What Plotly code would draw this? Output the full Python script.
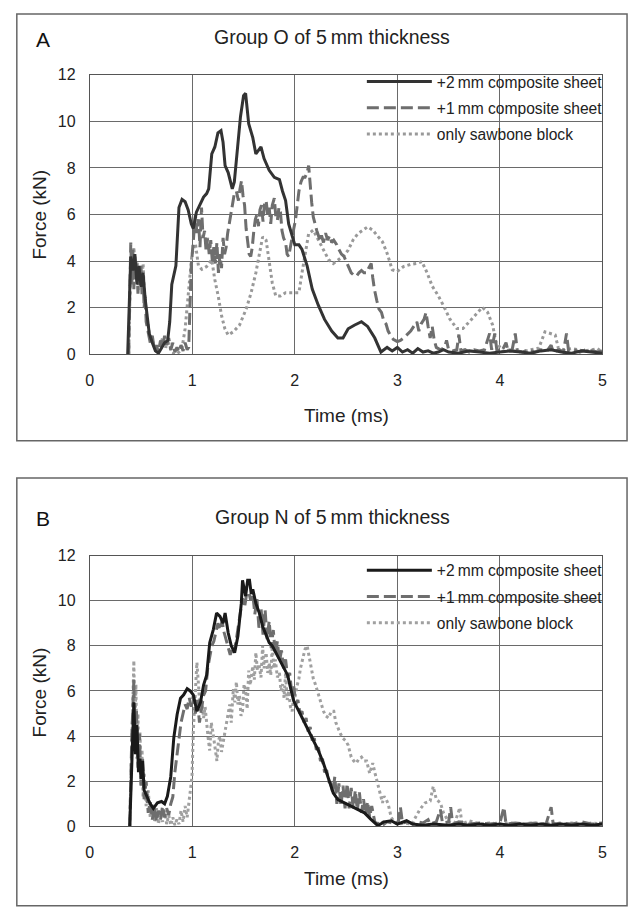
import plotly.graph_objects as go

W, H = 635, 907

# ---------------- Panel A data (Group O) ----------------
tA_2mm = [0.37,0.40,0.42,0.44,0.46,0.48,0.50,0.52,0.54,0.56,0.58,0.61,0.64,0.67,0.70,0.73,0.76,0.78,0.80,0.82,
          0.84,0.87,0.90,0.93,0.96,0.99,1.01,1.04,1.08,1.11,1.14,1.16,1.19,1.22,1.25,1.28,1.30,1.32,1.35,1.39,
          1.41,1.44,1.47,1.50,1.52,1.55,1.59,1.62,1.65,1.67,1.70,1.75,1.80,1.85,1.88,1.91,1.94,1.97,2.00,2.04,
          2.07,2.12,2.17,2.23,2.29,2.36,2.42,2.47,2.52,2.58,2.65,2.71,2.78,2.84,2.90,2.95,3.00,3.05,3.10,3.15,
          3.20,3.25,3.30,3.35,3.40,3.45,3.50,3.6,3.7,3.8,3.9,4.0,4.1,4.2,4.3,4.4,4.5,4.6,4.7,4.8,4.9,5.0]
fA_2mm = [0,4.2,3.6,4.3,3.0,3.8,2.9,3.5,2.4,1.6,0.9,0.5,0.15,0.05,0.3,0.5,0.6,1.4,3.0,3.4,
          3.8,6.3,6.65,6.55,6.2,5.6,5.4,6.1,6.5,6.75,6.9,7.1,8.6,8.9,9.5,9.6,9.1,8.1,7.8,7.1,
          7.4,8.9,10.2,11.1,11.2,9.9,9.3,8.6,8.8,8.9,8.4,7.9,7.6,7.5,7.0,6.6,5.6,5.1,4.7,4.7,
          4.5,3.8,2.8,2.1,1.5,1.0,0.7,0.7,1.1,1.25,1.4,1.2,0.7,0.1,0.3,0.15,0.3,0.1,0.2,0.05,
          0.25,0.1,0.15,0.05,0.1,0.2,0.1,0.05,0.15,0.1,0.05,0.1,0.15,0.1,0.05,0.15,0.2,0.1,0.05,0.15,0.1,0.05]

tA_1mm = [0.38,0.40,0.41,0.42,0.43,0.44,0.45,0.46,0.47,0.48,0.49,0.50,0.51,0.52,0.53,0.54,0.55,0.57,0.59,0.61,
          0.63,0.65,0.67,0.69,0.71,0.73,0.75,0.77,0.79,0.81,0.83,0.85,0.87,0.89,0.91,0.93,0.95,0.965,0.98,0.99,
          1.005,1.02,1.03,1.045,1.06,1.075,1.09,1.105,1.12,1.135,1.15,1.165,1.18,1.195,1.21,1.225,1.24,1.255,1.27,1.285,
          1.30,1.315,1.33,1.345,1.36,1.375,1.39,1.41,1.43,1.45,1.465,1.48,1.495,1.51,1.525,1.54,1.555,1.57,1.585,1.60,
          1.615,1.63,1.645,1.66,1.675,1.69,1.705,1.72,1.735,1.75,1.765,1.78,1.80,1.815,1.83,1.845,1.86,1.875,1.89,1.91,
          1.925,1.94,1.955,1.97,1.99,2.006,2.02,2.04,2.06,2.08,2.10,2.12,2.135,2.15,2.165,2.18,2.20,2.215,2.23,2.245,
          2.26,2.28,2.30,2.32,2.34,2.36,2.38,2.41,2.43,2.455,2.48,2.50,2.525,2.55,2.575,2.60,2.625,2.65,2.675,2.70,
          2.72,2.745,2.76,2.776,2.80,2.82,2.845,2.87,2.89,2.91,2.935,2.96,3.0,3.03,3.06,3.10,3.13,3.16,3.19,3.21,
          3.23,3.26,3.28,3.30,3.32,3.34,3.36,3.38,3.42,3.46,3.48,3.50,3.54,3.58,3.60,3.62,3.66,3.70,3.75,3.80,
          3.85,3.90,3.92,3.95,3.97,4.02,4.06,4.08,4.12,4.15,4.17,4.22,4.28,4.34,4.40,4.46,4.50,4.52,4.58,4.62,
          4.65,4.67,4.72,4.78,4.84,4.90,4.96,5.0]
fA_1mm = [0,4.8,3.0,4.5,2.8,4.2,3.2,3.9,2.6,3.6,2.9,3.8,2.5,3.4,2.0,2.6,1.4,1.0,0.5,0.8,
          0.2,0.4,0.1,0.6,0.3,0.8,0.4,0.7,0.2,0.5,0.1,0.3,0.1,0.4,0.15,0.5,0.2,0.3,2.6,3.8,
          4.6,5.6,6.0,5.2,5.8,4.6,6.3,5.0,5.3,4.4,5.0,4.3,4.9,4.0,4.6,3.9,4.8,3.5,4.3,3.7,
          5.0,4.3,4.6,5.2,5.6,6.0,6.4,6.9,7.0,6.6,7.1,7.45,6.8,6.4,5.4,4.8,4.3,4.2,4.6,5.3,
          5.8,6.0,5.5,6.2,6.4,5.7,6.5,6.6,6.0,6.3,5.6,6.4,6.7,5.9,5.75,6.3,6.1,5.3,5.0,4.8,
          4.3,4.2,4.6,4.9,5.4,5.75,6.3,7.0,7.4,7.6,7.6,7.8,8.1,7.2,6.5,5.9,5.5,5.3,5.1,4.9,
          5.1,4.8,5.2,4.9,5.1,4.8,4.9,4.7,4.5,4.3,4.2,4.0,3.7,3.5,3.4,3.35,3.5,3.6,3.5,3.5,
          3.7,3.9,3.3,2.8,2.3,1.95,1.8,1.4,1.3,1.0,0.8,0.65,0.55,0.6,0.7,0.85,1.0,1.2,1.4,1.0,
          1.3,1.5,1.8,1.2,0.7,1.2,0.6,0.3,0.2,0.3,0.6,0.2,0.15,0.2,0.85,0.15,0.2,0.1,0.2,0.15,
          0.2,0.9,0.2,0.9,0.2,0.15,0.5,0.15,0.2,0.9,0.15,0.1,0.2,0.1,0.2,0.15,0.4,0.1,0.2,0.1,
          0.9,0.15,0.2,0.1,0.2,0.15,0.1,0.15]

tA_bone = [0.38,0.40,0.415,0.43,0.445,0.46,0.475,0.49,0.505,0.52,0.535,0.55,0.57,0.59,0.62,0.65,0.68,0.71,0.74,0.77,
           0.80,0.84,0.87,0.90,0.93,0.965,0.997,1.03,1.06,1.093,1.14,1.19,1.22,1.253,1.285,1.317,1.35,1.40,1.46,1.526,
           1.574,1.62,1.654,1.686,1.72,1.75,1.78,1.814,1.86,1.91,1.974,2.04,2.07,2.10,2.135,2.18,2.23,2.28,2.33,2.375,
           2.42,2.47,2.52,2.567,2.615,2.66,2.71,2.76,2.81,2.855,2.90,2.95,3.0,3.06,3.13,3.19,3.24,3.29,3.34,3.40,
           3.45,3.51,3.58,3.64,3.70,3.77,3.83,3.88,3.93,3.96,4.03,4.10,4.18,4.25,4.32,4.38,4.44,4.49,4.54,4.57,
           4.63,4.70,4.75,4.82,4.9,4.95,5.0]
fA_bone = [0,4.2,3.2,4.6,3.4,4.0,2.7,3.7,3.0,3.9,2.3,1.8,1.1,0.6,0.5,0.1,0.3,0.7,0.3,0.5,
           0.05,0.0,0.1,0.27,1.1,2.8,4.3,4.76,3.8,3.65,3.77,4.06,3.2,2.5,1.67,1.11,0.83,0.97,1.25,1.95,
           2.65,3.5,4.34,5.04,4.9,3.9,3.07,2.51,2.51,2.65,2.65,2.65,3.5,4.34,5.18,5.33,4.9,4.47,4.06,3.9,
           4.06,4.2,4.47,4.9,5.18,5.33,5.47,5.33,5.04,4.83,4.34,3.63,3.56,3.77,3.86,3.9,3.98,3.5,2.93,2.51,
           2.09,1.53,1.11,1.11,1.39,1.75,2.02,1.81,1.25,0.55,0.13,0.2,0.1,0.15,0.2,0.27,0.97,0.9,0.83,0.27,
           0.2,0.25,0.2,0.15,0.2,0.25,0.1]

# ---------------- Panel B data (Group N) ----------------
tB_2mm = [0.39,0.41,0.43,0.445,0.46,0.475,0.49,0.50,0.515,0.53,0.56,0.59,0.62,0.66,0.70,0.73,0.757,0.79,0.82,0.852,
          0.885,0.916,0.95,0.98,1.01,1.045,1.08,1.11,1.14,1.17,1.205,1.237,1.27,1.30,1.32,1.35,1.38,1.413,1.445,1.478,
          1.49,1.52,1.54,1.558,1.575,1.59,1.62,1.654,1.686,1.72,1.75,1.78,1.83,1.88,1.93,1.96,1.99,2.04,2.087,2.135,
          2.18,2.23,2.28,2.33,2.375,2.42,2.49,2.55,2.615,2.68,2.74,2.81,2.87,2.94,3.0,3.09,3.15,3.25,3.35,3.5,
          3.6,3.7,3.8,3.9,4.0,4.1,4.2,4.3,4.4,4.5,4.6,4.7,4.8,4.9,5.0]
fB_2mm = [0,3.0,5.5,3.2,4.5,2.4,3.0,2.1,2.9,1.6,1.3,1.0,0.8,1.04,1.1,1.0,1.33,2.2,3.94,4.96,
          5.68,5.83,6.1,6.0,5.83,5.1,5.5,6.26,6.7,8.14,8.72,9.45,9.3,9.0,9.45,8.58,8.0,7.7,8.43,9.88,
          10.9,10.2,10.9,10.9,10.3,10.5,9.88,9.45,8.87,8.43,8.14,8.0,7.57,7.13,6.7,6.1,5.54,5.1,4.67,4.23,
          3.8,3.36,2.78,2.06,1.48,1.19,1.04,0.9,0.75,0.6,0.32,0.03,0.2,0.25,0.1,0.25,0.1,0.05,0.1,0.05,
          0.1,0.05,0.1,0.05,0.1,0.05,0.1,0.05,0.1,0.05,0.1,0.05,0.1,0.05,0.1]

tB_1mm = [0.39,0.41,0.43,0.44,0.455,0.47,0.485,0.50,0.515,0.53,0.55,0.57,0.59,0.61,0.63,0.65,0.67,0.69,0.71,0.73,
          0.75,0.77,0.79,0.81,0.83,0.85,0.87,0.89,0.91,0.93,0.95,0.97,0.99,1.01,1.03,1.05,1.07,1.09,1.11,1.13,
          1.15,1.17,1.19,1.21,1.23,1.25,1.27,1.29,1.31,1.33,1.35,1.37,1.39,1.41,1.43,1.45,1.47,1.49,1.51,1.53,
          1.55,1.57,1.59,1.61,1.63,1.65,1.67,1.69,1.71,1.73,1.75,1.77,1.79,1.81,1.83,1.85,1.87,1.89,1.91,1.93,
          1.95,1.97,1.99,2.01,2.03,2.05,2.07,2.09,2.11,2.13,2.15,2.17,2.19,2.21,2.23,2.25,2.27,2.29,2.31,2.33,
          2.35,2.37,2.39,2.41,2.43,2.45,2.47,2.49,2.51,2.53,2.55,2.57,2.59,2.61,2.63,2.65,2.67,2.69,2.71,2.73,
          2.75,2.78,2.81,2.84,2.87,2.90,2.95,3.01,3.03,3.05,3.10,3.15,3.2,3.25,3.30,3.32,3.38,3.42,3.44,3.50,
          3.52,3.54,3.6,3.7,3.8,3.9,4.0,4.04,4.06,4.15,4.25,4.35,4.45,4.50,4.52,4.6,4.7,4.8,4.9,5.0]
fB_1mm = [0,4.0,6.5,3.5,5.2,2.6,4.1,1.8,3.0,1.2,2.0,0.6,1.1,0.3,0.9,0.2,0.7,0.3,0.9,0.4,
          0.8,0.5,1.0,1.3,2.4,3.2,4.0,4.6,5.0,5.4,5.2,5.7,5.3,5.8,5.0,5.6,4.6,5.2,5.8,6.0,
          7.0,7.5,8.0,8.2,8.6,9.0,8.7,9.1,8.6,8.3,8.0,7.6,7.9,7.7,8.3,9.0,9.5,10.1,9.7,10.3,
          10.4,10.0,10.3,9.4,10.1,8.8,9.7,8.5,9.6,8.3,9.1,7.9,8.7,7.6,8.2,7.3,7.8,7.0,7.4,6.6,
          6.8,5.9,6.2,5.4,5.6,5.0,5.1,4.6,4.8,4.2,4.4,3.8,3.9,3.4,3.5,2.9,3.0,2.4,2.5,2.0,
          1.9,1.5,2.2,1.0,1.9,0.9,1.8,0.8,1.9,0.8,1.7,0.8,1.6,0.7,1.5,0.6,1.2,0.5,1.1,0.4,
          0.9,0.2,0.1,0.3,0.1,0.2,0.15,0.2,0.85,0.15,0.2,0.1,0.2,0.15,0.3,0.1,0.2,0.75,0.15,0.2,
          0.85,0.1,0.2,0.1,0.15,0.1,0.15,0.85,0.1,0.15,0.1,0.15,0.1,0.85,0.1,0.15,0.1,0.2,0.1,0.15]

tB_bone = [0.39,0.41,0.43,0.44,0.45,0.46,0.47,0.48,0.49,0.50,0.51,0.52,0.53,0.55,0.57,0.59,0.61,0.63,0.65,0.67,
           0.69,0.71,0.73,0.75,0.77,0.79,0.81,0.83,0.85,0.87,0.89,0.91,0.93,0.95,0.97,0.997,1.01,1.03,1.045,1.06,
           1.077,1.09,1.11,1.125,1.14,1.155,1.17,1.185,1.2,1.22,1.24,1.255,1.27,1.285,1.3,1.315,1.33,1.35,1.365,1.38,
           1.4,1.415,1.43,1.445,1.46,1.475,1.49,1.505,1.52,1.535,1.55,1.565,1.59,1.605,1.62,1.635,1.65,1.67,1.686,1.70,
           1.72,1.735,1.75,1.765,1.78,1.795,1.81,1.83,1.85,1.865,1.88,1.895,1.91,1.925,1.94,1.957,1.974,1.99,2.0,2.02,
           2.04,2.055,2.07,2.085,2.10,2.12,2.135,2.15,2.165,2.18,2.2,2.22,2.235,2.25,2.265,2.28,2.3,2.33,2.355,2.38,
           2.40,2.42,2.445,2.47,2.495,2.52,2.535,2.55,2.575,2.6,2.625,2.65,2.675,2.7,2.73,2.76,2.785,2.81,2.83,2.855,
           2.87,2.89,2.91,2.94,2.97,3.0,3.07,3.14,3.18,3.22,3.27,3.32,3.35,3.38,3.42,3.45,3.5,3.56,3.61,3.63,
           3.7,3.8,3.9,4.0,4.1,4.2,4.3,4.4,4.5,4.6,4.7,4.8,4.9,5.0]
fB_bone = [0,3.5,7.35,4.0,6.3,3.0,5.0,2.5,4.2,1.8,3.4,1.3,2.4,0.9,1.6,0.4,1.0,0.2,0.8,0.1,
           0.6,0.2,0.7,0.1,0.5,0.05,0.4,0.05,0.3,0.1,0.7,0.2,0.9,0.4,1.2,2.2,4.23,5.68,7.27,6.3,
           5.1,5.6,4.8,5.3,4.5,3.9,3.36,4.6,4.2,3.5,2.9,3.8,4.0,3.3,3.7,4.1,4.5,5.0,5.4,4.6,
           6.1,5.5,6.4,5.4,5.8,4.9,5.1,6.3,6.0,5.2,6.9,6.26,7.1,6.5,7.7,6.9,7.2,6.6,8.0,7.0,
           7.7,6.8,7.25,6.7,8.0,7.0,7.4,6.6,6.8,6.0,6.3,5.7,6.8,5.6,6.0,5.3,5.1,5.9,5.7,6.2,
           6.55,7.0,7.27,7.5,7.86,8.0,7.6,7.3,6.9,6.55,6.3,6.0,5.7,5.5,5.3,5.1,4.9,4.8,5.1,5.1,
           4.6,4.35,4.1,3.9,3.8,3.6,3.3,3.07,2.9,2.8,3.0,3.07,2.9,2.9,2.35,2.8,2.3,1.9,1.5,1.04,
           1.33,1.2,1.0,0.4,0.2,0.1,0.15,0.1,0.4,0.75,1.04,1.12,1.77,1.2,1.04,0.6,0.2,0.15,0.83,0.1,
           0.25,0.1,0.15,0.1,0.15,0.1,0.15,0.1,0.15,0.1,0.15,0.1,0.15,0.1]

series_names = ["+2\u2009mm composite sheet", "+1\u2009mm composite sheet", "only sawbone block"]
x_ticks = [0, 1, 2, 3, 4, 5]
y_ticks = [0, 2, 4, 6, 8, 10, 12]
titles = ["Group O of 5\u2009mm thickness", "Group N of 5\u2009mm thickness"]
panel_labels = ["A", "B"]

FONT = "Liberation Sans, Arial, sans-serif"

def px_x(p):
    return p / W

def px_y(p):
    return 1 - p / H

fig = go.Figure()

panels = [
    dict(xa="x", ya="y", leg="legend",
         data=[(tA_bone, fA_bone), (tA_1mm, fA_1mm), (tA_2mm, fA_2mm)],
         colors=["#999999", "#6e6e6e", "#333333"]),
    dict(xa="x2", ya="y2", leg="legend2",
         data=[(tB_bone, fB_bone), (tB_1mm, fB_1mm), (tB_2mm, fB_2mm)],
         colors=["#a0a0a0", "#6e6e6e", "#1a1a1a"]),
]
dashes = ["3px,3px", "12px,5px", "solid"]
names_order = [series_names[2], series_names[1], series_names[0]]
ranks = [3, 2, 1]

for pi, p in enumerate(panels):
    for k, ((t, f), col, dash, nm, rk) in enumerate(zip(p["data"], p["colors"], dashes, names_order, ranks)):
        fig.add_trace(go.Scatter(x=t, y=f, mode="lines", name=nm,
                                 line=dict(color=col, width=3, dash=dash),
                                 xaxis=p["xa"], yaxis=p["ya"], legend=p["leg"],
                                 legendgroup=f"p{pi}s{k}", legendrank=rk,
                                 hoverinfo="skip"))

x_dom = [px_x(87), px_x(607)]
axis_common = dict(showline=True, mirror=True, linecolor="#555555", linewidth=1,
                   showgrid=True, gridcolor="#6a6a6a", gridwidth=1, zeroline=False,
                   ticks="", tickfont=dict(family=FONT, size=16, color="#222222"))

legend_common = dict(xanchor="left", yanchor="top", bgcolor="rgba(0,0,0,0)",
                     traceorder="grouped", tracegroupgap=3, itemwidth=65,
                     font=dict(family=FONT, size=15.6, color="#222222"))

fig.update_layout(
    width=W, height=H,
    margin=dict(l=0, r=0, t=0, b=0),
    paper_bgcolor="white", plot_bgcolor="white",
    font=dict(family=FONT, color="#222222"),
    xaxis=dict(domain=x_dom, anchor="y", range=[0, 5], tickvals=x_ticks, ticklabelstandoff=11, **axis_common),
    yaxis=dict(domain=[px_y(353), px_y(68)], anchor="x", range=[0, 12], tickvals=y_ticks, ticklabelstandoff=10, **axis_common),
    xaxis2=dict(domain=x_dom, anchor="y2", range=[0, 5], tickvals=x_ticks, ticklabelstandoff=11, **axis_common),
    yaxis2=dict(domain=[px_y(834), px_y(558)], anchor="x2", range=[0, 12], tickvals=y_ticks, ticklabelstandoff=10, **axis_common),
    legend=dict(x=px_x(363), y=px_y(58), **legend_common),
    legend2=dict(x=px_x(363), y=px_y(556), **legend_common),
    showlegend=True,
)

# panel frames
fig.add_shape(type="rect", xref="paper", yref="paper", x0=px_x(13), x1=px_x(632), y0=px_y(441), y1=px_y(6),
              line=dict(color="#666666", width=1.5), fillcolor="rgba(0,0,0,0)", layer="below")
fig.add_shape(type="rect", xref="paper", yref="paper", x0=px_x(13), x1=px_x(632), y0=px_y(915), y1=px_y(479),
              line=dict(color="#666666", width=1.5), fillcolor="rgba(0,0,0,0)", layer="below")

ann = []
for title, lab, ty, ly, xty, yty in [(titles[0], panel_labels[0], 30, 32, 415, 210),
                                      (titles[1], panel_labels[1], 519, 520, 887, 697)]:
    ann.append(dict(text=title, x=px_x(333), y=px_y(ty), xref="paper", yref="paper", showarrow=False,
                    xanchor="center", yanchor="middle", font=dict(family=FONT, size=19.5, color="#222222")))
    ann.append(dict(text=lab, x=px_x(40), y=px_y(ly), xref="paper", yref="paper", showarrow=False,
                    xanchor="center", yanchor="middle", font=dict(family=FONT, size=21, color="#111111")))
    ann.append(dict(text="Time (ms)", x=px_x(347), y=px_y(xty), xref="paper", yref="paper", showarrow=False,
                    xanchor="center", yanchor="middle", font=dict(family=FONT, size=19, color="#222222")))
    ann.append(dict(text="Force (kN)", x=px_x(36), y=px_y(yty), xref="paper", yref="paper", showarrow=False,
                    textangle=-90, xanchor="center", yanchor="middle", font=dict(family=FONT, size=19, color="#222222")))
fig.update_layout(annotations=ann)

fig.write_html("out.html", config={"displayModeBar": False},
               post_script="document.body.style.margin='0';document.body.style.overflow='hidden';")
